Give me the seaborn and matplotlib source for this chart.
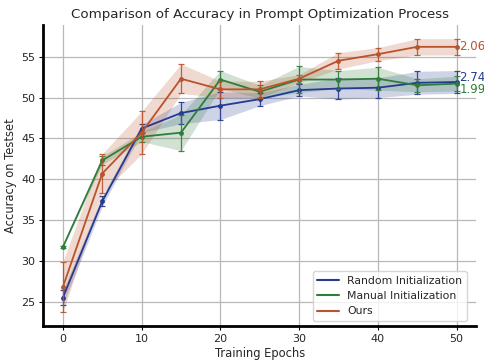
import numpy as np
import pandas as pd
import matplotlib
matplotlib.use("Agg")
import matplotlib.pyplot as plt
from matplotlib.lines import Line2D
import seaborn as sns

epochs = [0, 5, 10, 15, 20, 25, 30, 35, 40, 45, 50]
random_mean = [25.5, 37.3, 46.2, 48.1, 49.0, 49.8, 50.9, 51.1, 51.2, 51.8, 51.9]
random_err = [0.9, 0.6, 0.5, 1.3, 1.7, 0.8, 0.7, 1.3, 1.2, 1.4, 1.4]
manual_mean = [31.7, 42.3, 45.2, 45.7, 52.2, 50.7, 52.2, 52.2, 52.3, 51.5, 51.7]
manual_err = [0.1, 0.5, 0.6, 2.2, 1.1, 0.8, 1.6, 1.1, 1.4, 0.8, 0.9]
ours_mean = [26.8, 40.7, 45.7, 52.3, 51.0, 51.0, 52.3, 54.5, 55.3, 56.2, 56.2]
ours_err = [3.1, 2.4, 2.6, 1.8, 1.0, 1.0, 0.5, 1.0, 0.8, 1.0, 1.0]
labels = ["Random Initialization", "Manual Initialization", "Ours"]
end_labels = ["2.74", "1.99", "2.06"]
end_label_shift = [0.6, -0.7, 0.0]
colors = ["#263a8e", "#2e7d3a", "#b9532b"]

sns.set_style("white")
plt.rcParams['font.family'] = ['DejaVu Sans']

fig = plt.figure(figsize=(4.85, 3.62), dpi=100)
ax = fig.add_axes([0.089, 0.099, 0.893, 0.832])

series = [(random_mean, random_err), (manual_mean, manual_err), (ours_mean, ours_err)]
for (m, e), lab, c, el, sh in zip(series, labels, colors, end_labels, end_label_shift):
    m = np.array(m); e = np.array(e)
    df = pd.DataFrame({"Epoch": epochs, "Acc": m})
    ax.fill_between(epochs, m - e, m + e, color=c, alpha=0.22, linewidth=0)
    sns.lineplot(data=df, x="Epoch", y="Acc", ax=ax, color=c, legend=False,
                 linewidth=1.3, marker="o", markersize=3.5, markeredgewidth=0)
    ax.errorbar(epochs, m, yerr=e, fmt="none", ecolor=c, elinewidth=0.9,
                capsize=2.5, capthick=0.9, alpha=0.9)
    ax.text(epochs[-1] + 0.35, m[-1] + sh, el, color=c, fontsize=8.5,
            va="center", ha="left", clip_on=False)

ax.grid(True, color="#b8b8b8", linewidth=0.9)
ax.set_axisbelow(True)
for s in ["top", "right"]:
    ax.spines[s].set_visible(False)
for s in ["left", "bottom"]:
    ax.spines[s].set_color("black")
    ax.spines[s].set_linewidth(2)
ax.set_xticks([0, 10, 20, 30, 40, 50])
ax.set_yticks([25, 30, 35, 40, 45, 50, 55])
ax.tick_params(axis="both", labelsize=8, length=3, width=0.8, color="black",
               bottom=True, left=True, pad=2.5)
ax.set_xlabel("Training Epochs", fontsize=8.3, labelpad=2)
ax.set_ylabel("Accuracy on Testset", fontsize=8.3, labelpad=3)
ax.set_title("Comparison of Accuracy in Prompt Optimization Process", fontsize=9.6, pad=5)
handles = [Line2D([0], [0], color=c, linewidth=1.5) for c in colors]
ax.legend(handles, labels, loc="lower right", fontsize=7.8, frameon=True,
          bbox_to_anchor=(0.99, 0.0))

fig.savefig("out.png", dpi=100)
